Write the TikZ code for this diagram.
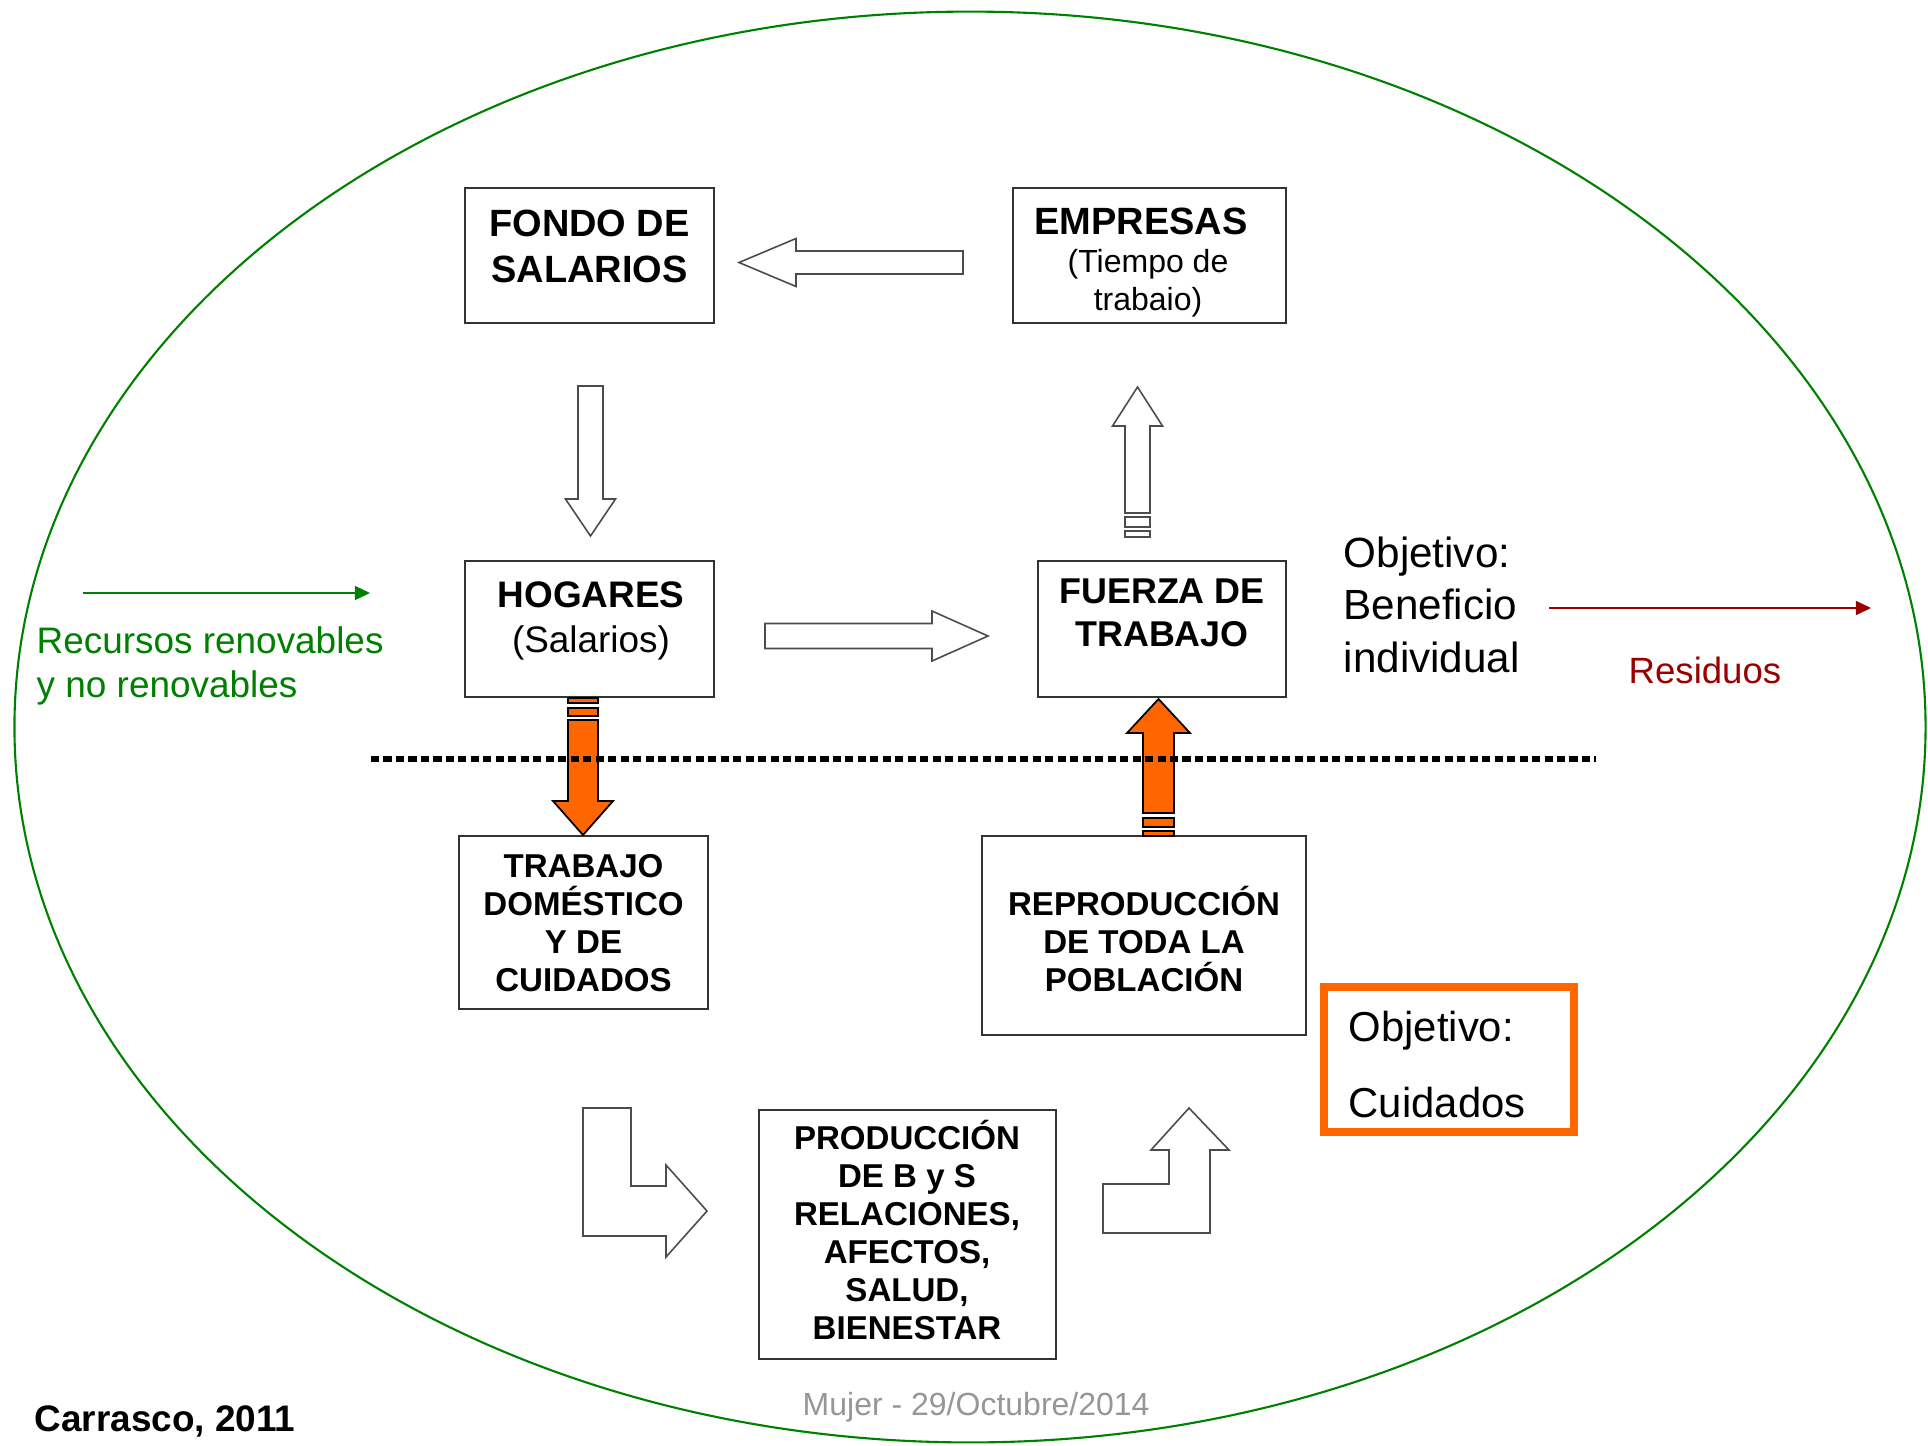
\documentclass[tikz,border=0pt]{standalone}
\usepackage{fontspec}
\setmainfont{Liberation Sans}
\usetikzlibrary{arrows.meta}
\definecolor{verde}{RGB}{0,128,0}
\definecolor{rojo}{RGB}{153,0,0}
\definecolor{naranja}{RGB}{255,102,0}
\definecolor{fecha}{RGB}{150,150,150}
\tikzset{
  caja/.style = {draw = black!80, line width = 0.55pt, inner sep = 0pt},
  hueca/.style = {draw = black!70, line width = 0.45pt, fill = white},
  llena/.style = {draw = black, line width = 0.5pt, fill = naranja},
  texto/.style = {inner sep = 0pt, align = center, anchor = base},
  grande/.style = {texto, font = \bfseries\fontsize{10.8}{12.8}\selectfont},
  chica/.style = {texto, font = \bfseries\fontsize{9.4}{10.8}\selectfont}
}
\begin{document}
\begin{tikzpicture}[x = 0.01cm, y = -0.01cm]
    \useasboundingbox (0,0) rectangle (1928,1445);
    \draw[verde, line width = 0.6pt] (970,727) ellipse [x radius = 9.55cm, y radius = 7.15cm];

    \node (fondo) at (589.5,255.5) [caja, minimum width = 2.49cm, minimum height = 1.35cm] {};
    \node (empresas) at (1149.5,255.5) [caja, minimum width = 2.73cm, minimum height = 1.35cm] {};
    \node (hogares) at (589.5,629) [caja, minimum width = 2.49cm, minimum height = 1.36cm] {};
    \node (fuerza) at (1162,629) [caja, minimum width = 2.48cm, minimum height = 1.36cm] {};
    \node (trabajo) at (583.5,922.5) [caja, minimum width = 2.49cm, minimum height = 1.73cm] {};
    \node (reproduccion) at (1144,935.5) [caja, minimum width = 3.24cm, minimum height = 1.99cm] {};
    \node (produccion) at (907.5,1234.5) [caja, minimum width = 2.97cm, minimum height = 2.49cm] {};

    \node (fondo-t) at (589.5,282) [grande] {FONDO DE\\SALARIOS};
    \node (empresas-t) at (1141,234) [grande] {EMPRESAS};
    \node (empresas-s) at (1148,310) [texto, font = \fontsize{9.1}{10.6}\selectfont] {(Tiempo de\\trabaio)};
    \node (hogares-t) at (591,607) [grande, font = \bfseries\fontsize{10.5}{12.8}\selectfont] {HOGARES};
    \node (hogares-s) at (591,652) [texto, font = \fontsize{10.5}{12.6}\selectfont] {(Salarios)};
    \node (fuerza-t) at (1162,646) [grande, font = \bfseries\fontsize{10.2}{12.2}\selectfont] {FUERZA DE\\TRABAJO};
    \node (trabajo-t) at (583.5,991) [chica] {TRABAJO\\DOMÉSTICO\\Y DE\\CUIDADOS};
    \node (reproduccion-t) at (1144,991) [chica] {REPRODUCCIÓN\\DE TODA LA\\POBLACIÓN};
    \node (produccion-t) at (907,1339) [chica] {PRODUCCIÓN\\DE B y S\\RELACIONES,\\AFECTOS,\\SALUD,\\BIENESTAR};

    \draw[hueca] (963,251) -- (796,251) -- (796,238.5) -- (739,262.5) -- (796,286.5) -- (796,274) -- (963,274) -- cycle;
    \draw[hueca] (578,386) -- (603,386) -- (603,499) -- (615.5,499) -- (590.5,536) -- (565.5,499) -- (578,499) -- cycle;
    \draw[hueca] (1125,513) -- (1125,426) -- (1112.5,426) -- (1137.5,387) -- (1162.5,426) -- (1150,426) -- (1150,513) -- cycle;
    \draw[hueca] (1125,517) rectangle (1150,527);
    \draw[hueca] (1125,531) rectangle (1150,537);
    \draw[hueca] (765,623.5) -- (932,623.5) -- (932,611) -- (988,636) -- (932,661) -- (932,648.5) -- (765,648.5) -- cycle;
    \draw[hueca] (583,1108) -- (631,1108) -- (631,1186) -- (666,1186) -- (666,1165) -- (707,1211) -- (666,1257) -- (666,1236) -- (583,1236) -- cycle;
    \draw[hueca] (1103,1233) -- (1103,1184) -- (1169,1184) -- (1169,1150) -- (1151,1150) -- (1189,1108) -- (1229,1150) -- (1210,1150) -- (1210,1233) -- cycle;

    \draw[llena] (568,698) rectangle (598,703);
    \draw[llena] (568,708) rectangle (598,716);
    \draw[llena] (568,720) -- (598,720) -- (598,801) -- (613,801) -- (583,835) -- (553,801) -- (568,801) -- cycle;
    \draw[llena] (1143,813) -- (1143,733) -- (1127,733) -- (1158.5,699) -- (1190,733) -- (1174,733) -- (1174,813) -- cycle;
    \draw[llena] (1143,818) rectangle (1174,827);
    \draw[llena] (1143,831) rectangle (1174,836);

    \coordinate (linea-a) at (371,759);
    \coordinate (linea-b) at (1596,759);
    \draw[line width = 1.7pt, dash pattern = on 2.3pt off 1.25pt] (linea-a) -- (linea-b);

    \coordinate (recursos-a) at (83,593);
    \coordinate (recursos-b) at (370,593);
    \draw[verde, line width = 0.45pt, -{Triangle[length = 4.3pt, width = 4pt]}] (recursos-a) -- (recursos-b);
    \node (recursos) at (36,697) [inner sep = 0pt, anchor = base west, align = left, text = verde,
        font = \fontsize{10.5}{12.5}\selectfont] {Recursos renovables\\y no renovables};

    \coordinate (residuos-a) at (1549,608);
    \coordinate (residuos-b) at (1871,608);
    \draw[rojo, line width = 0.45pt, -{Triangle[length = 4.3pt, width = 4pt]}] (residuos-a) -- (residuos-b);
    \node (residuos) at (1628,683) [inner sep = 0pt, anchor = base west, text = rojo,
        font = \fontsize{10.4}{12.5}\selectfont] {Residuos};

    \node (beneficio) at (1343,672) [inner sep = 0pt, anchor = base west, align = left,
        font = \fontsize{12}{14.8}\selectfont] {Objetivo:\\Beneficio\\individual};

    \node (cuidados) at (1449,1059.5) [draw = naranja, line width = 2.3pt, minimum width = 2.5cm,
        minimum height = 1.45cm, inner sep = 0pt] {};
    \node (cuidados-t) at (1348,1117) [inner sep = 0pt, anchor = base west, align = left,
        font = \fontsize{11.9}{21.4}\selectfont] {Objetivo:\\Cuidados};

    \node (autor) at (34,1431) [inner sep = 0pt, anchor = base west, font = \bfseries\fontsize{10.5}{12}\selectfont] {Carrasco, 2011};
    \node (fecha) at (802,1415) [inner sep = 0pt, anchor = base west, text = fecha,
        font = \fontsize{9.1}{11}\selectfont] {Mujer - 29/Octubre/2014};
\end{tikzpicture}
\end{document}
